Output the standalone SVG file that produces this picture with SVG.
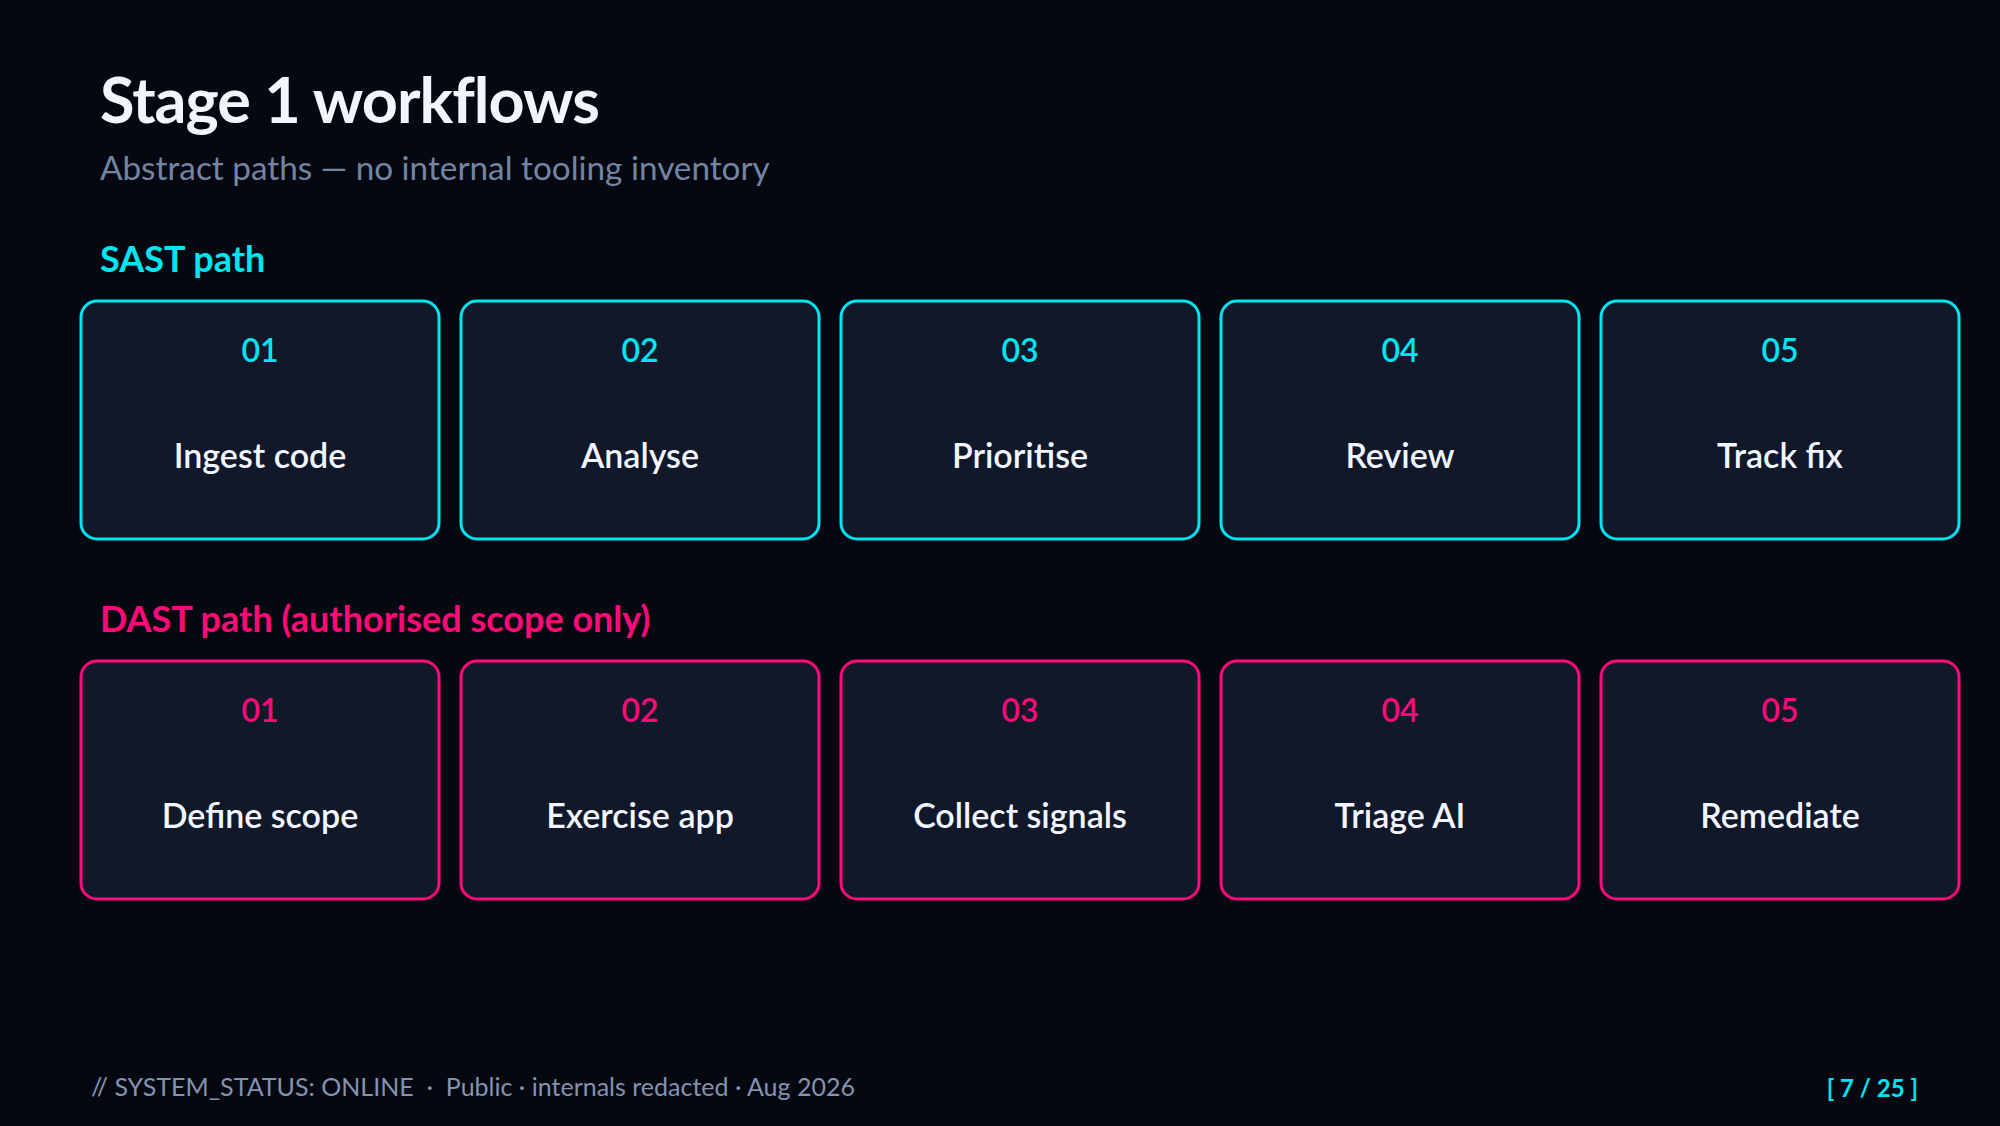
<svg xmlns="http://www.w3.org/2000/svg" width="2000" height="1126" viewBox="0 0 2000 1126">
  <style>
    text { font-family: Lato, "Noto Sans", "Liberation Sans", sans-serif; }
    .title { font-size: 63px; font-weight: 700; fill: #f1f5ff; letter-spacing: -1px; }
    .subtitle { font-size: 33.3px; font-weight: 400; fill: #7385a3; }
    .section { font-size: 36px; font-weight: 700; }
    .sast { fill: #00e5f2; }
    .dast { fill: #ff0a78; }
    .box { fill: #111829; stroke-width: 3; }
    .box.sast-box { stroke: #00e5f2; }
    .box.dast-box { stroke: #ff0a78; }
    .num { font-size: 32px; font-weight: 600; text-anchor: middle; }
    .label { font-size: 34px; font-weight: 600; fill: #f1f5ff; text-anchor: middle; }
    .footer { font-size: 25px; font-weight: 400; fill: #8393b0; }
    .page { font-size: 24px; font-weight: 700; fill: #00e5f2; text-anchor: end; }
  </style>
  <rect x="0" y="0" width="2000" height="1126" fill="#050810"/>

  <text class="title" x="100" y="123">Stage 1 workflows</text>
  <text class="subtitle" x="100" y="180">Abstract paths — no internal tooling inventory</text>

  <text class="section sast" x="100" y="272">SAST path</text>

  <g id="sast-01">
    <rect class="box sast-box" x="81" y="301" width="358" height="238" rx="16"/>
    <text class="num sast" x="260" y="362">01</text>
    <text class="label" x="260" y="468">Ingest code</text>
  </g>
  <g id="sast-02">
    <rect class="box sast-box" x="461" y="301" width="358" height="238" rx="16"/>
    <text class="num sast" x="640" y="362">02</text>
    <text class="label" x="640" y="468">Analyse</text>
  </g>
  <g id="sast-03">
    <rect class="box sast-box" x="841" y="301" width="358" height="238" rx="16"/>
    <text class="num sast" x="1020" y="362">03</text>
    <text class="label" x="1020" y="468">Prioritise</text>
  </g>
  <g id="sast-04">
    <rect class="box sast-box" x="1221" y="301" width="358" height="238" rx="16"/>
    <text class="num sast" x="1400" y="362">04</text>
    <text class="label" x="1400" y="468">Review</text>
  </g>
  <g id="sast-05">
    <rect class="box sast-box" x="1601" y="301" width="358" height="238" rx="16"/>
    <text class="num sast" x="1780" y="362">05</text>
    <text class="label" x="1780" y="468">Track fix</text>
  </g>

  <text class="section dast" x="100" y="632">DAST path (authorised scope only)</text>

  <g id="dast-01">
    <rect class="box dast-box" x="81" y="661" width="358" height="238" rx="16"/>
    <text class="num dast" x="260" y="722">01</text>
    <text class="label" x="260" y="828">Define scope</text>
  </g>
  <g id="dast-02">
    <rect class="box dast-box" x="461" y="661" width="358" height="238" rx="16"/>
    <text class="num dast" x="640" y="722">02</text>
    <text class="label" x="640" y="828">Exercise app</text>
  </g>
  <g id="dast-03">
    <rect class="box dast-box" x="841" y="661" width="358" height="238" rx="16"/>
    <text class="num dast" x="1020" y="722">03</text>
    <text class="label" x="1020" y="828">Collect signals</text>
  </g>
  <g id="dast-04">
    <rect class="box dast-box" x="1221" y="661" width="358" height="238" rx="16"/>
    <text class="num dast" x="1400" y="722">04</text>
    <text class="label" x="1400" y="828">Triage AI</text>
  </g>
  <g id="dast-05">
    <rect class="box dast-box" x="1601" y="661" width="358" height="238" rx="16"/>
    <text class="num dast" x="1780" y="722">05</text>
    <text class="label" x="1780" y="828">Remediate</text>
  </g>

  <g id="connectors"></g>

  <text class="footer" x="91" y="1096" xml:space="preserve">// SYSTEM_STATUS: ONLINE  ·  Public · internals redacted · Aug 2026</text>
  <text class="page" x="1918" y="1097">[ 7 / 25 ]</text>
</svg>
